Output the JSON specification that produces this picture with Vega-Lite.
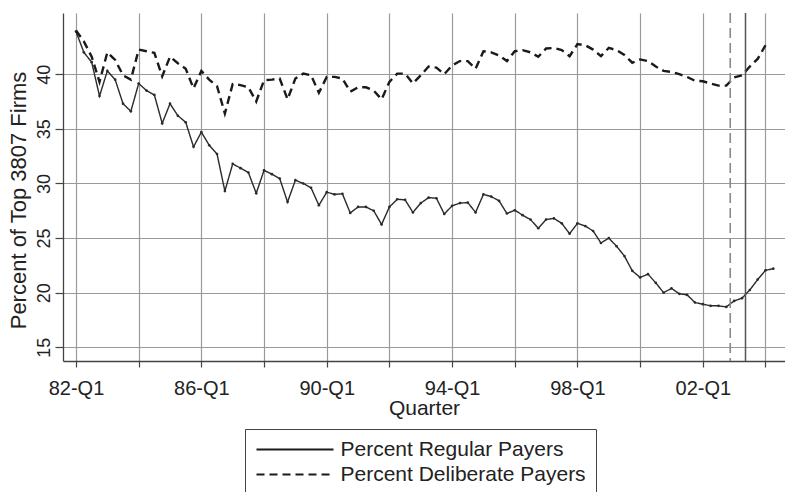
{
  "$schema": "https://vega.github.io/schema/vega-lite/v6.json",
  "autosize": {"type": "none"},
  "padding": {"left": 63, "top": 13, "right": 0, "bottom": 131},
  "width": 722,
  "height": 348,
  "background": "white",
  "config": {
    "font": "Liberation Sans",
    "view": {"stroke": null},
    "axis": {
      "gridColor": "#9a9a9a",
      "gridWidth": 1.2,
      "domainColor": "#444",
      "domainWidth": 1.3,
      "tickColor": "#444",
      "tickWidth": 1.2,
      "labelColor": "#222",
      "titleColor": "#222",
      "titleFontWeight": "normal",
      "labelFont": "Liberation Sans",
      "titleFont": "Liberation Sans"
    }
  },
  "datasets": {
    "payers": [
      {"t": 0, "quarter": "82-Q1", "regular": 43.9, "deliberate": 44.0},
      {"t": 1, "quarter": "82-Q2", "regular": 42.0, "deliberate": 43.0},
      {"t": 2, "quarter": "82-Q3", "regular": 41.1, "deliberate": 41.6},
      {"t": 3, "quarter": "82-Q4", "regular": 38.0, "deliberate": 39.3},
      {"t": 4, "quarter": "83-Q1", "regular": 40.3, "deliberate": 42.0},
      {"t": 5, "quarter": "83-Q2", "regular": 39.5, "deliberate": 41.3},
      {"t": 6, "quarter": "83-Q3", "regular": 37.3, "deliberate": 39.9},
      {"t": 7, "quarter": "83-Q4", "regular": 36.6, "deliberate": 39.5},
      {"t": 8, "quarter": "84-Q1", "regular": 39.15, "deliberate": 42.25},
      {"t": 9, "quarter": "84-Q2", "regular": 38.5, "deliberate": 42.1},
      {"t": 10, "quarter": "84-Q3", "regular": 38.1, "deliberate": 41.95},
      {"t": 11, "quarter": "84-Q4", "regular": 35.5, "deliberate": 39.8},
      {"t": 12, "quarter": "85-Q1", "regular": 37.3, "deliberate": 41.6},
      {"t": 13, "quarter": "85-Q2", "regular": 36.2, "deliberate": 41.0},
      {"t": 14, "quarter": "85-Q3", "regular": 35.6, "deliberate": 40.5},
      {"t": 15, "quarter": "85-Q4", "regular": 33.35, "deliberate": 38.7},
      {"t": 16, "quarter": "86-Q1", "regular": 34.7, "deliberate": 40.3},
      {"t": 17, "quarter": "86-Q2", "regular": 33.5, "deliberate": 39.5},
      {"t": 18, "quarter": "86-Q3", "regular": 32.7, "deliberate": 38.9},
      {"t": 19, "quarter": "86-Q4", "regular": 29.3, "deliberate": 36.4},
      {"t": 20, "quarter": "87-Q1", "regular": 31.8, "deliberate": 39.1},
      {"t": 21, "quarter": "87-Q2", "regular": 31.4, "deliberate": 39.0},
      {"t": 22, "quarter": "87-Q3", "regular": 31.0, "deliberate": 38.8},
      {"t": 23, "quarter": "87-Q4", "regular": 29.1, "deliberate": 37.5},
      {"t": 24, "quarter": "88-Q1", "regular": 31.2, "deliberate": 39.45},
      {"t": 25, "quarter": "88-Q2", "regular": 30.85, "deliberate": 39.5},
      {"t": 26, "quarter": "88-Q3", "regular": 30.45, "deliberate": 39.6},
      {"t": 27, "quarter": "88-Q4", "regular": 28.3, "deliberate": 37.7},
      {"t": 28, "quarter": "89-Q1", "regular": 30.3, "deliberate": 39.6},
      {"t": 29, "quarter": "89-Q2", "regular": 30.0, "deliberate": 40.05},
      {"t": 30, "quarter": "89-Q3", "regular": 29.6, "deliberate": 39.9},
      {"t": 31, "quarter": "89-Q4", "regular": 28.0, "deliberate": 38.3},
      {"t": 32, "quarter": "90-Q1", "regular": 29.2, "deliberate": 39.75},
      {"t": 33, "quarter": "90-Q2", "regular": 29.0, "deliberate": 39.75},
      {"t": 34, "quarter": "90-Q3", "regular": 29.05, "deliberate": 39.6},
      {"t": 35, "quarter": "90-Q4", "regular": 27.3, "deliberate": 38.4},
      {"t": 36, "quarter": "91-Q1", "regular": 27.85, "deliberate": 38.8},
      {"t": 37, "quarter": "91-Q2", "regular": 27.85, "deliberate": 38.8},
      {"t": 38, "quarter": "91-Q3", "regular": 27.5, "deliberate": 38.5},
      {"t": 39, "quarter": "91-Q4", "regular": 26.25, "deliberate": 37.7},
      {"t": 40, "quarter": "92-Q1", "regular": 27.85, "deliberate": 39.3},
      {"t": 41, "quarter": "92-Q2", "regular": 28.55, "deliberate": 40.05},
      {"t": 42, "quarter": "92-Q3", "regular": 28.5, "deliberate": 40.05},
      {"t": 43, "quarter": "92-Q4", "regular": 27.35, "deliberate": 39.15},
      {"t": 44, "quarter": "93-Q1", "regular": 28.2, "deliberate": 39.9},
      {"t": 45, "quarter": "93-Q2", "regular": 28.7, "deliberate": 40.7},
      {"t": 46, "quarter": "93-Q3", "regular": 28.65, "deliberate": 40.6},
      {"t": 47, "quarter": "93-Q4", "regular": 27.2, "deliberate": 40.0},
      {"t": 48, "quarter": "94-Q1", "regular": 27.95, "deliberate": 40.8},
      {"t": 49, "quarter": "94-Q2", "regular": 28.2, "deliberate": 41.2},
      {"t": 50, "quarter": "94-Q3", "regular": 28.25, "deliberate": 41.2},
      {"t": 51, "quarter": "94-Q4", "regular": 27.35, "deliberate": 40.5},
      {"t": 52, "quarter": "95-Q1", "regular": 29.0, "deliberate": 42.1},
      {"t": 53, "quarter": "95-Q2", "regular": 28.8, "deliberate": 42.0},
      {"t": 54, "quarter": "95-Q3", "regular": 28.4, "deliberate": 41.7},
      {"t": 55, "quarter": "95-Q4", "regular": 27.25, "deliberate": 41.2},
      {"t": 56, "quarter": "96-Q1", "regular": 27.55, "deliberate": 42.1},
      {"t": 57, "quarter": "96-Q2", "regular": 27.1, "deliberate": 42.2},
      {"t": 58, "quarter": "96-Q3", "regular": 26.7, "deliberate": 42.0},
      {"t": 59, "quarter": "96-Q4", "regular": 25.9, "deliberate": 41.6},
      {"t": 60, "quarter": "97-Q1", "regular": 26.7, "deliberate": 42.35},
      {"t": 61, "quarter": "97-Q2", "regular": 26.8, "deliberate": 42.4},
      {"t": 62, "quarter": "97-Q3", "regular": 26.35, "deliberate": 42.2},
      {"t": 63, "quarter": "97-Q4", "regular": 25.4, "deliberate": 41.65},
      {"t": 64, "quarter": "98-Q1", "regular": 26.35, "deliberate": 42.75},
      {"t": 65, "quarter": "98-Q2", "regular": 26.1, "deliberate": 42.65},
      {"t": 66, "quarter": "98-Q3", "regular": 25.65, "deliberate": 42.25},
      {"t": 67, "quarter": "98-Q4", "regular": 24.55, "deliberate": 41.65},
      {"t": 68, "quarter": "99-Q1", "regular": 25.0, "deliberate": 42.4},
      {"t": 69, "quarter": "99-Q2", "regular": 24.25, "deliberate": 42.2},
      {"t": 70, "quarter": "99-Q3", "regular": 23.35, "deliberate": 41.75},
      {"t": 71, "quarter": "99-Q4", "regular": 22.0, "deliberate": 41.05},
      {"t": 72, "quarter": "00-Q1", "regular": 21.4, "deliberate": 41.35},
      {"t": 73, "quarter": "00-Q2", "regular": 21.7, "deliberate": 41.2},
      {"t": 74, "quarter": "00-Q3", "regular": 20.9, "deliberate": 40.7},
      {"t": 75, "quarter": "00-Q4", "regular": 20.0, "deliberate": 40.3},
      {"t": 76, "quarter": "01-Q1", "regular": 20.4, "deliberate": 40.2},
      {"t": 77, "quarter": "01-Q2", "regular": 19.9, "deliberate": 40.0},
      {"t": 78, "quarter": "01-Q3", "regular": 19.8, "deliberate": 39.75},
      {"t": 79, "quarter": "01-Q4", "regular": 19.1, "deliberate": 39.4},
      {"t": 80, "quarter": "02-Q1", "regular": 18.95, "deliberate": 39.35},
      {"t": 81, "quarter": "02-Q2", "regular": 18.8, "deliberate": 39.15},
      {"t": 82, "quarter": "02-Q3", "regular": 18.8, "deliberate": 38.95},
      {"t": 83, "quarter": "02-Q4", "regular": 18.7, "deliberate": 38.95},
      {"t": 84, "quarter": "03-Q1", "regular": 19.25, "deliberate": 39.7},
      {"t": 85, "quarter": "03-Q2", "regular": 19.5, "deliberate": 39.9},
      {"t": 86, "quarter": "03-Q3", "regular": 20.25, "deliberate": 40.7},
      {"t": 87, "quarter": "03-Q4", "regular": 21.2, "deliberate": 41.4},
      {"t": 88, "quarter": "04-Q1", "regular": 22.05, "deliberate": 42.65},
      {"t": 89, "quarter": "04-Q2", "regular": 22.2, "deliberate": null}
    ]
  },
  "layer": [
    {
      "data": {"name": "payers"},
      "mark": {"type": "line", "color": "#2a2a2a", "strokeWidth": 1.4},
      "encoding": {
        "x": {
          "field": "t", "type": "quantitative",
          "scale": {"domain": [-1.66, 90.49], "nice": false, "zero": false},
          "axis": {
            "values": [0, 8, 16, 24, 32, 40, 48, 56, 64, 72, 80, 88],
            "labelExpr": "datum.value % 16 === 0 ? format((82 + datum.value / 4) % 100, '02d') + '-Q1' : ''",
            "grid": true,
            "tickSize": 6,
            "labelFontSize": 20,
            "labelPadding": 11,
            "labelFlush": false,
            "labelOverlap": false,
            "title": "Quarter",
            "titleFontSize": 21,
            "titleY": 53,
            "titleBaseline": "alphabetic",
            "titlePadding": 0
          }
        },
        "y": {
          "field": "regular", "type": "quantitative",
          "scale": {"domain": [13.75, 45.6], "nice": false, "zero": false},
          "axis": {
            "values": [15, 20, 25, 30, 35, 40],
            "grid": true,
            "tickSize": 8,
            "labelAngle": -90,
            "labelAlign": "center",
            "labelBaseline": "bottom",
            "labelFontSize": 18,
            "labelPadding": 2,
            "title": "Percent of Top 3807 Firms",
            "titleFontSize": 22,
            "titleAngle": -90,
            "titleX": -45,
            "titleY": 187,
            "titleAlign": "center",
            "titleBaseline": "middle"
          }
        },
        "strokeDash": {
          "datum": "Percent Regular Payers",
          "type": "nominal",
          "scale": {
            "domain": ["Percent Regular Payers", "Percent Deliberate Payers"],
            "range": [[1, 0], [8, 5]]
          },
          "legend": {
            "title": null,
            "orient": "none",
            "legendX": 182,
            "legendY": 416,
            "padding": 10,
            "strokeColor": "#444",
            "fillColor": "white",
            "labelFontSize": 21,
            "labelLimit": 0,
            "labelColor": "#222",
            "labelFont": "Liberation Sans",
            "symbolType": "M-7.7,0H7.7",
            "symbolSize": 100,
            "symbolStrokeWidth": 2,
            "symbolStrokeColor": "#222",
            "symbolFillColor": "transparent",
            "symbolOffset": 29.5,
            "labelOffset": 35,
            "rowPadding": 3
          }
        }
      }
    },
    {
      "data": {"name": "payers"},
      "mark": {"type": "point", "filled": true, "shape": "circle", "size": 7, "color": "#2a2a2a", "opacity": 1},
      "encoding": {
        "x": {"field": "t", "type": "quantitative"},
        "y": {"field": "regular", "type": "quantitative"}
      }
    },
    {
      "data": {"name": "payers"},
      "mark": {"type": "line", "color": "#1a1a1a", "strokeWidth": 2.4},
      "encoding": {
        "x": {"field": "t", "type": "quantitative"},
        "y": {"field": "deliberate", "type": "quantitative"},
        "strokeDash": {"datum": "Percent Deliberate Payers", "type": "nominal"}
      }
    },
    {
      "data": {"values": [{"t": 83.5, "event": "first marker"}]},
      "mark": {"type": "rule", "color": "#8a8a8a", "strokeWidth": 1.6, "strokeDash": [10, 5]},
      "encoding": {"x": {"field": "t", "type": "quantitative"}}
    },
    {
      "data": {"values": [{"t": 85.45, "event": "second marker"}]},
      "mark": {"type": "rule", "color": "#555", "strokeWidth": 1.5},
      "encoding": {"x": {"field": "t", "type": "quantitative"}}
    }
  ]
}
